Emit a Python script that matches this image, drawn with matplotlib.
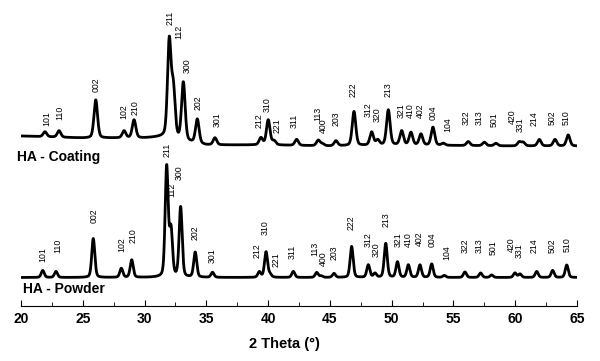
import matplotlib.pyplot as plt
import numpy as np

plt.rcParams['font.family'] = ['Liberation Sans', 'DejaVu Sans']

# peak table: 2-theta position, height above background
coating_pos = [21.94, 23.08, 26.05, 28.34, 29.15, 32.00, 32.33, 33.14, 34.27, 35.70,
               39.42, 40.01, 40.48, 42.31, 44.06, 44.40, 45.49, 46.95, 48.38, 48.87,
               49.73, 50.81, 51.56, 52.37, 53.34, 54.18, 56.20, 57.50, 58.44, 60.33,
               60.65, 61.95, 63.22, 64.29]
coating_int = [5, 6.5, 38, 7, 18, 96, 48, 58, 24, 7,
               7, 25, 4, 6, 5.5, 2, 5, 34, 13, 5,
               35, 14, 12.5, 11, 18, 2, 4, 3.5, 2.5, 4,
               3.5, 6.5, 6.5, 11]
# background of the coating trace (2-theta, height)
coating_bg_x = [20, 25, 30, 31.5, 33.5, 35, 40, 45, 50, 55, 60, 65]
coating_bg_y = [170, 168, 168, 169, 164, 161, 161, 160, 161, 160.5, 160, 160]

powder_pos = [21.76, 22.83, 25.85, 28.12, 28.96, 31.79, 32.14, 32.92, 34.10, 35.50,
              39.29, 39.83, 40.15, 42.04, 43.93, 44.30, 45.33, 46.76, 48.11, 48.65,
              49.52, 50.47, 51.35, 52.29, 53.24, 54.26, 55.93, 57.20, 58.09, 59.98,
              60.39, 61.74, 63.03, 64.17]
powder_int = [7, 6, 39, 9, 17.5, 110, 46, 70, 25, 5,
              5.5, 25.5, 3, 6, 5, 1.5, 4, 31, 12.5, 4,
              34, 15.5, 12.5, 12.5, 13.5, 2, 5.5, 4.5, 2.5, 4.5,
              3.5, 6, 7, 12.5]
powder_bg = 28.5

# Miller index labels: text, 2-theta, height of label base
coating_hkl = ['101', '110', '002', '102', '210', '211', '112', '300', '202', '301',
               '212', '310', '221', '311', '113', '400', '203', '222', '312', '320',
               '213', '321', '410', '402', '004', '104', '322', '313', '501', '420',
               '331', '214', '502', '510']
coating_lab_x = [22.08, 23.16, 26.05, 28.34, 29.23, 32.06, 32.81, 33.41, 34.35, 35.84,
                 39.26, 39.93, 40.74, 42.09, 44.06, 44.50, 45.49, 46.89, 48.14, 48.80,
                 49.73, 50.75, 51.48, 52.29, 53.37, 54.58, 56.07, 57.07, 58.28, 59.76,
                 60.40, 61.52, 62.95, 64.16]
coating_lab_y = [180, 186, 214, 187, 191, 281, 267, 233, 196, 179,
                 178, 194, 173, 178, 185, 173, 180, 209, 189, 184,
                 209, 188, 188, 188, 186, 174, 181, 181, 179, 182,
                 174, 180, 181, 181]

powder_hkl = coating_hkl
powder_lab_x = [21.76, 22.94, 25.93, 28.15, 29.04, 31.79, 32.22, 32.79, 34.08, 35.48,
                39.12, 39.80, 40.61, 41.96, 43.79, 44.50, 45.33, 46.68, 48.11, 48.75,
                49.54, 50.54, 51.35, 52.24, 53.29, 54.50, 55.99, 57.07, 58.18, 59.68,
                60.34, 61.52, 62.95, 64.21]
powder_lab_y = [44, 53, 83, 54, 63, 149, 109, 126, 66, 43,
                48, 71, 39, 47, 50, 40, 46, 76, 59, 49,
                79, 59, 59, 60, 59, 46, 53, 53, 51, 54,
                48, 53, 53, 54]

x_ticks = [20, 25, 30, 35, 40, 45, 50, 55, 60, 65]


def pattern(tt, pos, inten, fwhm, eta=0.3):
    # pseudo-Voigt sum of the listed reflections
    y = np.zeros_like(tt)
    for p, h in zip(pos, inten):
        d = (tt - p) / fwhm
        gauss = np.exp(-4 * np.log(2) * d ** 2)
        lor = 1 / (1 + 4 * d ** 2)
        y += h * (eta * lor + (1 - eta) * gauss)
    return y


tt = np.linspace(20, 65, 4000)
coating = np.interp(tt, coating_bg_x, coating_bg_y) + pattern(tt, coating_pos, coating_int, 0.34)
powder = powder_bg + pattern(tt, powder_pos, powder_int, 0.29)

fig = plt.figure(figsize=(6, 3.61), dpi=100)
ax = fig.add_axes([21 / 600, 55 / 361, 556 / 600, 300 / 361])

ax.plot(tt, coating, color='black', lw=2.0)
ax.plot(tt, powder, color='black', lw=2.0)

for lab, x, y in zip(coating_hkl, coating_lab_x, coating_lab_y):
    ax.text(x, y, lab, rotation=90, ha='center', va='bottom', fontsize=6.3)
for lab, x, y in zip(powder_hkl, powder_lab_x, powder_lab_y):
    ax.text(x, y, lab, rotation=90, ha='center', va='bottom', fontsize=6.3)

ax.text(19.68, 149, 'HA - Coating', fontsize=10, fontweight='bold', va='center', clip_on=False)
ax.text(20.14, 16.7, 'HA - Powder', fontsize=10, fontweight='bold', va='center', clip_on=False)

ax.set_xlim(20, 65)
ax.set_ylim(0, 300)
ax.set_xticks(x_ticks)
ax.set_xticks(np.arange(22.5, 65, 5), minor=True)
ax.tick_params(axis='x', which='both', direction='in', labelsize=10, pad=4)
ax.tick_params(axis='x', which='major', length=4)
ax.tick_params(axis='x', which='minor', length=3)
for t in ax.get_xticklabels():
    t.set_fontweight('bold')
ax.set_yticks([])
for side in ['left', 'right', 'top']:
    ax.spines[side].set_visible(False)
ax.spines['bottom'].set_linewidth(0.8)

ax.set_xlabel('2 Theta (°)', fontsize=10.5, fontweight='bold')
ax.xaxis.set_label_coords(0.474, -0.103)

fig.savefig('out.png', dpi=100)
